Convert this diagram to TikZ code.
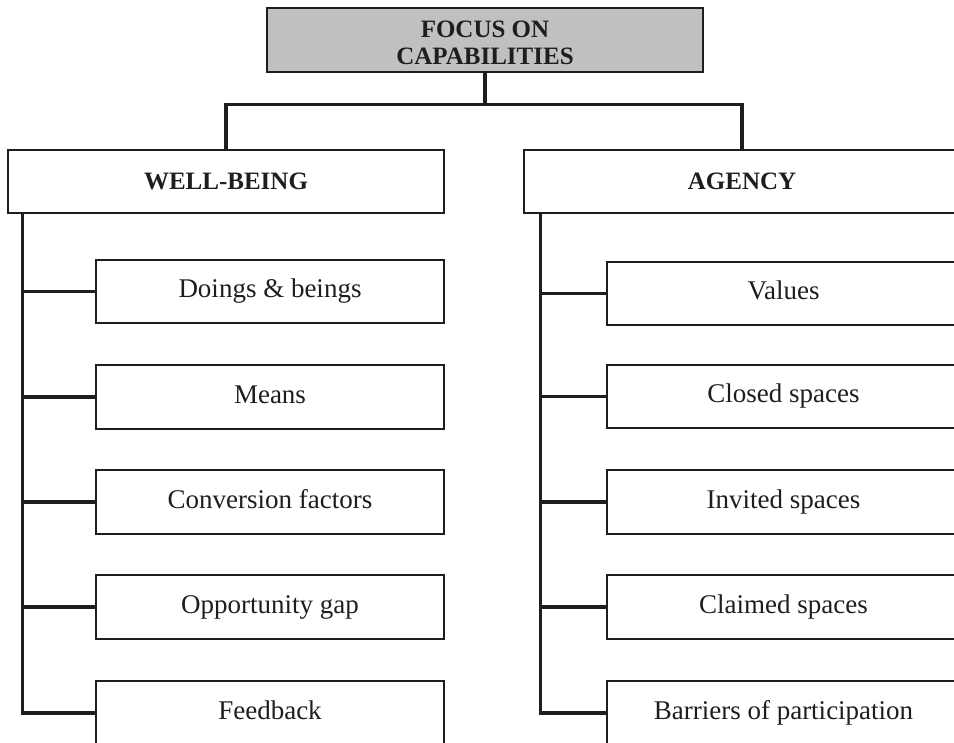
\documentclass[tikz,border=0pt]{standalone}
\usepackage{fontspec}
\setmainfont{Liberation Serif}
\definecolor{ink}{HTML}{1E1E1E}
\definecolor{boxgray}{HTML}{C0C0C0}
\tikzset{
  x=1pt, y=-1pt,
  basebox/.style={draw=ink, line width=2.3pt, rectangle, inner sep=0pt, text=ink},
  topbox/.style={basebox, fill=boxgray, minimum width=436pt, minimum height=64pt,
     font=\fontsize{25}{27}\selectfont\bfseries, align=center},
  headbox/.style={basebox, fill=white, minimum width=436pt, minimum height=63pt,
     font=\fontsize{25}{30}\selectfont\bfseries, text height=17pt, text depth=0pt},
  itembox/.style={basebox, fill=white, minimum width=348pt, minimum height=63.5pt,
     font=\fontsize{27}{32}\selectfont, text height=18pt, text depth=5pt},
  ritembox/.style={itembox, minimum width=353pt},
  link/.style={draw=ink, line width=3.2pt},
}
\begin{document}
\begin{tikzpicture}
\useasboundingbox (0,0) rectangle (954,743);
\clip (0,0) rectangle (954,743);
\fill[white] (0,0) rectangle (954,743);

\node[topbox] (top) at (485,40) {\rule{0pt}{23pt}FOCUS ON\\CAPABILITIES};
\node[headbox] (wb) at (226,181.5) {WELL-BEING};
\node[headbox] (ag) at (742,181.5) {AGENCY};

\node[itembox] (l1) at (270,291.5) {Doings \& beings};
\node[itembox] (l2) at (270,397) {Means};
\node[itembox] (l3) at (270,502) {Conversion factors};
\node[itembox] (l4) at (270,607) {Opportunity gap};
\node[itembox] (l5) at (270,713) {Feedback};

\node[ritembox] (r1) at (783.5,293.5) {Values};
\node[ritembox] (r2) at (783.5,396.5) {Closed spaces};
\node[ritembox] (r3) at (783.5,502) {Invited spaces};
\node[ritembox] (r4) at (783.5,607) {Claimed spaces};
\node[ritembox] (r5) at (783.5,713) {Barriers of participation};

\coordinate (split) at ([yshift=-31pt]top.south);
\draw[link] (top.south) -- (split);
\draw[link] (split) -| (wb.north);
\draw[link] (split) -| (ag.north);

\coordinate (ltr) at ([xshift=16pt]wb.south west);
\coordinate (rtr) at ([xshift=18pt]ag.south west);
\draw[link] (ltr) |- (l5.west);
\draw[link] (rtr) |- (r5.west);
\foreach \n in {l1,l2,l3,l4}{\draw[link] (ltr |- \n.west) -- (\n.west);}
\foreach \n in {r1,r2,r3,r4}{\draw[link] (rtr |- \n.west) -- (\n.west);}
\end{tikzpicture}
\end{document}
